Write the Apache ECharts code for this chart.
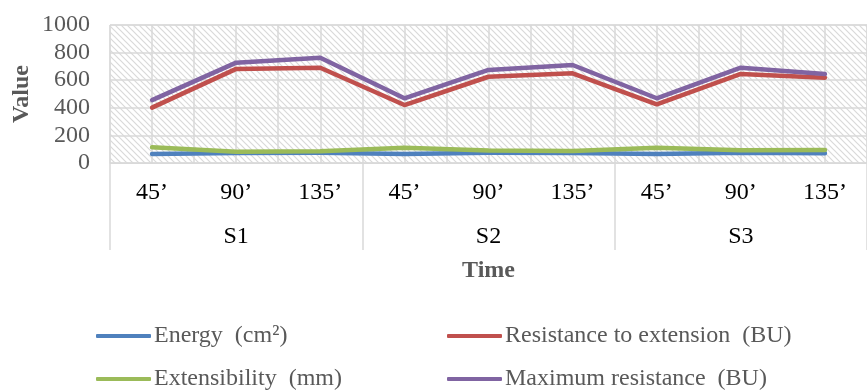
<!DOCTYPE html>
<html>
<head>
<meta charset="utf-8">
<script src="https://cdn.jsdelivr.net/npm/echarts@6/dist/echarts.min.js"></script>
<style>
  html, body { margin: 0; padding: 0; background: #fff; }
  #chart { width: 867px; height: 390px; }
</style>
</head>
<body>
<div id="chart"></div>
<script>
const times = ["45’", "90’", "135’", "45’", "90’", "135’", "45’", "90’", "135’"];
const groups = ["S1", "S2", "S3"];
const yTicks = [0, 200, 400, 600, 800, 1000];

const energy = [65, 72, 75, 65, 75, 72, 65, 75, 70];
const extensibility = [114, 82, 85, 111, 90, 87, 111, 92, 94];
const resistanceExt = [401, 682, 690, 420, 625, 650, 425, 645, 618];
const maxResistance = [456, 727, 763, 469, 674, 710, 469, 691, 645];

const seriesNames = [
  "Energy  (cm²)",
  "Extensibility  (mm)",
  "Resistance to extension  (BU)",
  "Maximum resistance  (BU)"
];
const colors = ["#4F81BD", "#9BBB59", "#C0504D", "#8064A2"];

// diagonal hatch for the plot area
const hatch = document.createElement("canvas");
hatch.width = 6;
hatch.height = 6;
const hc = hatch.getContext("2d");
hc.strokeStyle = "#d9d9d9";
hc.lineWidth = 1.2;
hc.beginPath();
hc.moveTo(-1, -1); hc.lineTo(7, 7);
hc.moveTo(-1, 5); hc.lineTo(1, 7);
hc.moveTo(5, -1); hc.lineTo(7, 1);
hc.stroke();

const font = "'Liberation Serif', 'Times New Roman', serif";
const textColor = "#595959";
const gridColor = "#d9d9d9";
const fs = 24;

const chart = echarts.init(document.getElementById("chart"));

const series = [energy, extensibility, resistanceExt, maxResistance].map((d, i) => ({
  name: seriesNames[i],
  type: "line",
  data: d,
  color: colors[i],
  symbol: "none",
  lineStyle: { width: 4.5, color: colors[i], cap: "round", join: "round" },
  z: 3
}));

// one legend per item so the 2x2 layout lines up in columns
const legendPos = [[96, 324], [96, 367], [447, 324], [447, 367]];
const legends = seriesNames.map((n, i) => ({
  data: [n],
  left: legendPos[i][0], top: legendPos[i][1],
  padding: 0,
  itemWidth: 55, itemHeight: 4, itemGap: 0, icon: "roundRect",
  textStyle: { fontFamily: font, fontSize: fs, color: textColor, padding: [0, 0, 0, -2] }
}));

chart.setOption({
  animation: false,
  textStyle: { fontFamily: font },
  grid: {
    left: 110, top: 25, width: 768, height: 138,
    show: true,
    backgroundColor: { image: hatch, repeat: "repeat" },
    borderColor: gridColor,
    borderWidth: 1
  },
  legend: legends,
  xAxis: [
    {
      type: "category",
      data: times,
      position: "bottom",
      axisLine: { lineStyle: { color: gridColor, width: 1 } },
      axisTick: { show: false },
      axisLabel: { fontSize: fs, color: "#000", margin: 18, fontFamily: font },
      splitLine: { show: false },
      name: "Time",
      nameLocation: "middle",
      nameGap: 96,
      nameTextStyle: { fontSize: fs, fontWeight: "bold", color: textColor, fontFamily: font }
    },
    {
      type: "category",
      data: groups,
      position: "bottom",
      axisLine: { show: false },
      axisTick: { show: true, length: 87, lineStyle: { color: gridColor, width: 1.5 } },
      axisLabel: { fontSize: fs, color: "#000", margin: 62, fontFamily: font },
      splitLine: { show: false }
    },
    {
      type: "category",
      data: times.concat(times),
      position: "top",
      axisLine: { show: false },
      axisTick: { show: false },
      axisLabel: { show: false },
      splitLine: { show: true, lineStyle: { color: gridColor, width: 1.5 } }
    }
  ],
  yAxis: {
    type: "value",
    min: yTicks[0],
    max: yTicks[yTicks.length - 1],
    interval: yTicks[1] - yTicks[0],
    axisLine: { show: false },
    axisTick: { show: false },
    axisLabel: { fontSize: fs, color: textColor, margin: 20, fontFamily: font, formatter: v => String(v) },
    splitLine: { lineStyle: { color: gridColor, width: 1.5 } },
    name: "Value",
    nameLocation: "middle",
    nameGap: 76,
    nameMoveOverlap: false,
    nameTextStyle: { fontSize: fs, fontWeight: "bold", color: textColor, fontFamily: font }
  },
  series: series
});
</script>
</body>
</html>
